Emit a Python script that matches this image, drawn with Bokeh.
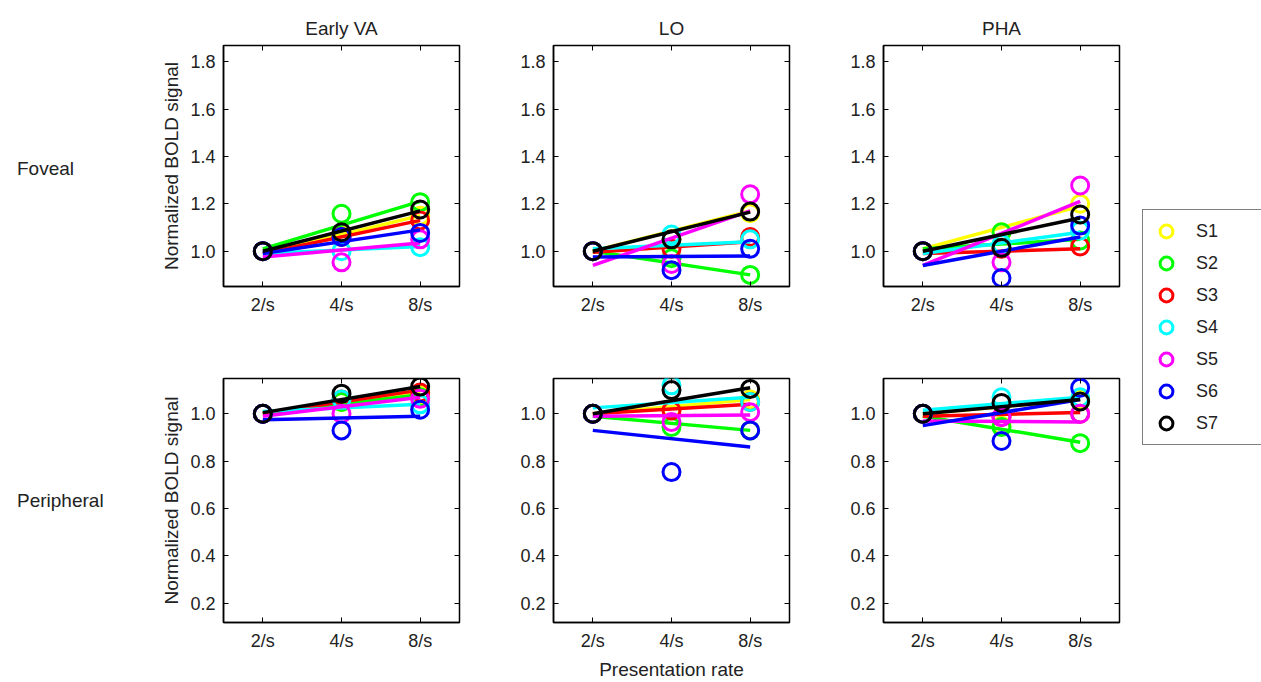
import numpy as np
from bokeh.plotting import figure
from bokeh.layouts import row, column
from bokeh.models import Range1d, LinearAxis, FixedTicker, Legend, LegendItem, Div
from bokeh.embed import file_html
from bokeh.resources import INLINE

# Data
subjects = ["S1", "S2", "S3", "S4", "S5", "S6", "S7"]
colors = ["#FFFF00", "#00FF00", "#FF0000", "#00FFFF", "#FF00FF", "#0000FF", "#000000"]
rates = ["2/s", "4/s", "8/s"]
areas = ["Early VA", "LO", "PHA"]
conds = ["Foveal", "Peripheral"]

# measured values at 4/s and 8/s (2/s is normalized to 1.0), per subject S1..S7
pts = {
    ("Foveal", "Early VA"): ([1.07, 1.158, 1.06, 1.00, 0.953, 1.06, 1.08],
                             [1.15, 1.207, 1.13, 1.017, 1.05, 1.077, 1.176]),
    ("Foveal", "LO"): ([1.05, 0.97, 1.01, 1.07, 0.946, 0.92, 1.05],
                       [1.16, 0.90, 1.06, 1.05, 1.24, 1.01, 1.167]),
    ("Foveal", "PHA"): ([1.08, 1.08, 1.01, 1.03, 0.953, 0.887, 1.014],
                        [1.20, 1.045, 1.02, 1.087, 1.277, 1.108, 1.155]),
    ("Peripheral", "Early VA"): ([1.05, 1.05, 1.06, 1.06, 1.0, 0.93, 1.085],
                                 [1.08, 1.07, 1.09, 1.04, 1.063, 1.017, 1.115]),
    ("Peripheral", "LO"): ([1.02, 0.944, 1.014, 1.12, 0.965, 0.754, 1.10],
                           [1.06, 0.93, 1.05, 1.05, 1.007, 0.93, 1.105]),
    ("Peripheral", "PHA"): ([0.95, 0.944, 0.986, 1.07, 0.986, 0.885, 1.046],
                            [1.06, 0.876, 1.0, 1.07, 1.0, 1.11, 1.052]),
}
# linear fit lines: value at 2/s and at 8/s
fits = {
    ("Foveal", "Early VA"): ([0.99, 1.01, 0.99, 0.99, 0.975, 0.99, 1.0],
                             [1.15, 1.21, 1.13, 1.02, 1.035, 1.09, 1.17]),
    ("Foveal", "LO"): ([1.0, 1.0, 0.995, 1.01, 0.94, 0.975, 1.0],
                       [1.17, 0.90, 1.04, 1.04, 1.17, 0.98, 1.165]),
    ("Foveal", "PHA"): ([1.01, 1.01, 0.99, 0.99, 0.94, 0.94, 1.0],
                        [1.19, 1.05, 1.01, 1.08, 1.21, 1.06, 1.14]),
    ("Peripheral", "Early VA"): ([1.0, 1.0, 1.0, 1.01, 0.99, 0.975, 1.005],
                                 [1.09, 1.08, 1.10, 1.04, 1.07, 0.99, 1.115]),
    ("Peripheral", "LO"): ([1.0, 0.99, 1.0, 1.025, 0.99, 0.93, 1.0],
                           [1.06, 0.93, 1.04, 1.07, 0.995, 0.86, 1.11]),
    ("Peripheral", "PHA"): ([1.0, 0.99, 0.99, 1.015, 0.97, 0.95, 1.0],
                            [1.06, 0.88, 1.005, 1.07, 0.965, 1.06, 1.06]),
}

FONT = "Liberation Sans"
TXT = "#222222"
yticks = {"Foveal": [1.0, 1.2, 1.4, 1.6, 1.8], "Peripheral": [0.2, 0.4, 0.6, 0.8, 1.0]}
yranges = {"Foveal": (0.851, 1.868), "Peripheral": (0.119, 1.149)}
DIV_W = 110


def make_panel(ri, ci):
    cond, area = conds[ri], areas[ci]
    p = figure(frame_width=236, frame_height=241 if ri == 0 else 244,
               x_range=Range1d(0.5, 3.5), y_range=Range1d(*yranges[cond]),
               output_backend="svg", toolbar_location=None,
               min_border_left=(223 - DIV_W) if ci == 0 else 84,
               min_border_right=10,
               min_border_top=45 if ri == 0 else 32,
               min_border_bottom=60 if ri == 0 else 52)
    p.grid.visible = False
    p.outline_line_color = "black"
    p.outline_line_width = 1.5
    if ri == 0:
        p.title.text = area
        p.title.align = "center"
        p.title.text_font = FONT
        p.title.text_font_size = "19px"
        p.title.text_font_style = "normal"
        p.title.text_color = TXT
        p.title.offset = 0
        p.title.standoff = 14

    for ax in (p.xaxis[0], p.yaxis[0]):
        ax.major_tick_in = 5
        ax.major_tick_out = 0
        ax.minor_tick_line_color = None
        ax.axis_line_color = "black"
        ax.axis_line_width = 1.5
        ax.major_label_text_font = FONT
        ax.major_label_text_font_size = "18px"
        ax.major_label_text_color = TXT
        ax.axis_label_text_font = FONT
        ax.axis_label_text_font_size = "19px"
        ax.axis_label_text_font_style = "normal"
        ax.axis_label_text_color = TXT
    p.xaxis.ticker = FixedTicker(ticks=[1, 2, 3])
    p.xaxis.major_label_overrides = {1: rates[0], 2: rates[1], 3: rates[2]}
    p.yaxis.ticker = FixedTicker(ticks=yticks[cond])
    p.yaxis.major_label_overrides = {t: "%.1f" % t for t in yticks[cond]}
    p.yaxis.major_label_standoff = 8
    p.xaxis.major_label_standoff = 8
    if ci == 0:
        p.yaxis.axis_label = "Normalized BOLD signal"
    if ri == 1 and ci == 1:
        p.xaxis.axis_label = "Presentation rate"

    # mirrored ticks (box style)
    r_ax = LinearAxis(ticker=FixedTicker(ticks=yticks[cond]), major_label_text_font_size="0px",
                      major_tick_in=5, major_tick_out=0, minor_tick_line_color=None,
                      axis_line_color=None)
    t_ax = LinearAxis(ticker=FixedTicker(ticks=[1, 2, 3]), major_label_text_font_size="0px",
                      major_tick_in=5, major_tick_out=0, minor_tick_line_color=None,
                      axis_line_color=None)
    p.add_layout(r_ax, "right")
    p.add_layout(t_ax, "above")

    s0, s1 = fits[(cond, area)]
    v4, v8 = pts[(cond, area)]
    for k in range(len(subjects)):
        p.line([1, 3], [s0[k], s1[k]], line_color=colors[k], line_width=3.5)
        p.scatter([1, 2, 3], [1.0, v4[k], v8[k]], size=17, fill_color=None,
                  line_color=colors[k], line_width=3)
    return p


panels = [[make_panel(ri, ci) for ci in range(3)] for ri in range(2)]

style = {"font-family": FONT, "font-size": "19px", "color": TXT, "padding-left": "12px"}
labels = column(
    Div(text=conds[0], width=DIV_W, height=20, styles=dict(style, **{"margin-top": "155px"})),
    Div(text=conds[1], width=DIV_W, height=20, styles=dict(style, **{"margin-top": "307px"})),
    width=DIV_W)

# legend figure
lg = figure(width=140, height=674, x_range=Range1d(0, 1), y_range=Range1d(0, 1),
            output_backend="svg", toolbar_location=None, min_border=0)
lg.axis.visible = False
lg.grid.visible = False
lg.outline_line_color = None
items = []
for k, s in enumerate(subjects):
    r = lg.scatter([5], [5], size=17, fill_color=None, line_color=colors[k], line_width=3)
    items.append(LegendItem(label=s, renderers=[r]))
legend = Legend(items=items, location=(13, 229), label_text_font=FONT, label_text_font_size="18px",
                label_text_color=TXT, border_line_color="black", border_line_width=1.5,
                spacing=0, glyph_width=36, glyph_height=32, padding=5, label_standoff=12,
                label_width=90, margin=0)
lg.add_layout(legend, "center")

grid = column(row(*panels[0]), row(*panels[1]))
p = row(labels, grid, lg)

open("out.html", "w").write(file_html(p, INLINE))
